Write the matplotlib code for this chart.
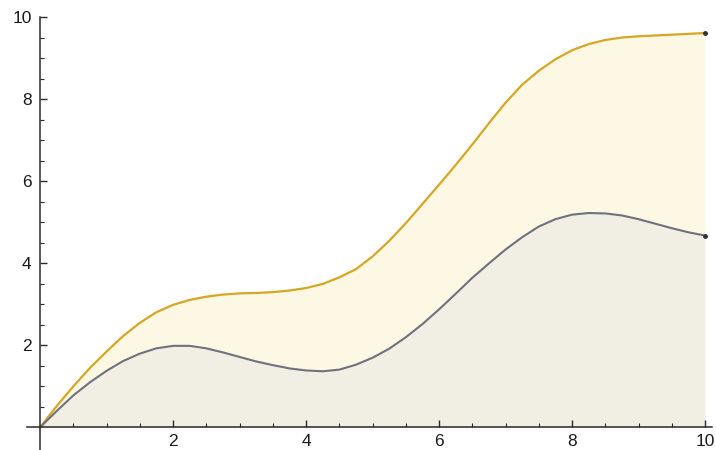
import matplotlib
matplotlib.use("Agg")
import matplotlib.pyplot as plt
from matplotlib.ticker import FixedLocator

# Sample positions and curve heights
x_vals = [0.0, 0.25, 0.5, 0.75, 1.0, 1.25, 1.5, 1.75, 2.0, 2.25, 2.5, 2.75,
          3.0, 3.25, 3.5, 3.75, 4.0, 4.25, 4.5, 4.75, 5.0, 5.25, 5.5, 5.75,
          6.0, 6.25, 6.5, 6.75, 7.0, 7.25, 7.5, 7.75, 8.0, 8.25, 8.5, 8.75,
          9.0, 9.25, 9.5, 9.75, 10.0]

upper_vals = [0.0, 0.52, 1.0, 1.45, 1.85, 2.23, 2.55, 2.81, 2.99, 3.11, 3.19, 3.24,
              3.27, 3.28, 3.3, 3.34, 3.4, 3.5, 3.66, 3.86, 4.17, 4.55, 4.98, 5.45,
              5.92, 6.4, 6.9, 7.42, 7.92, 8.36, 8.7, 8.98, 9.2, 9.35, 9.45, 9.51,
              9.54, 9.56, 9.58, 9.6, 9.62]

lower_vals = [0.0, 0.4, 0.78, 1.1, 1.38, 1.62, 1.8, 1.93, 1.99, 1.99, 1.93, 1.83,
              1.72, 1.61, 1.52, 1.44, 1.39, 1.37, 1.41, 1.53, 1.7, 1.92, 2.2, 2.52,
              2.88, 3.26, 3.65, 4.0, 4.34, 4.64, 4.9, 5.08, 5.19, 5.23, 5.22, 5.17,
              5.08, 4.97, 4.86, 4.76, 4.68]

major_ticks = [2, 4, 6, 8, 10]
tick_labels = ["2", "4", "6", "8", "10"]

upper_line = "#d6a624"
upper_fill = "#fcf8e3"
lower_line = "#6f717e"
lower_fill = "#f1eee3"
axis_color = "#2a2a2a"

plt.rcParams["font.family"] = ["Liberation Sans", "DejaVu Sans"]

fig = plt.figure(figsize=(7.16, 4.5), dpi=100)
ax = fig.add_axes([0.0373, 0.0, 0.9567, 0.9658])
ax.set_xlim(-0.2, 10.1)
ax.set_ylim(-0.55, 10.05)

ax.fill_between(x_vals, lower_vals, upper_vals, color=upper_fill, lw=0, zorder=1)
ax.fill_between(x_vals, 0, lower_vals, color=lower_fill, lw=0, zorder=1)

ax.plot(x_vals, upper_vals, color=upper_line, lw=1.6, zorder=3,
        solid_capstyle="round", solid_joinstyle="round")
ax.plot(x_vals, lower_vals, color=lower_line, lw=1.5, zorder=3,
        solid_capstyle="round", solid_joinstyle="round")
ax.plot([x_vals[-1]], [upper_vals[-1]], "o", color="#333333", ms=2.5, zorder=4)
ax.plot([x_vals[-1]], [lower_vals[-1]], "o", color="#333333", ms=2.5, zorder=4)

# Axes crossing at the origin
for side in ("top", "right"):
    ax.spines[side].set_visible(False)
ax.spines["left"].set_position(("data", 0))
ax.spines["bottom"].set_position(("data", 0))
ax.spines["left"].set_bounds(-0.55, 10.0)
ax.spines["bottom"].set_bounds(-0.2, 10.1)
for side in ("left", "bottom"):
    ax.spines[side].set_color(axis_color)
    ax.spines[side].set_linewidth(1.1)
    ax.spines[side].set_zorder(5)

ax.xaxis.set_major_locator(FixedLocator(major_ticks))
ax.yaxis.set_major_locator(FixedLocator(major_ticks))
ax.set_xticklabels(tick_labels)
ax.set_yticklabels(tick_labels)
minor_ticks = [v * 0.5 for v in range(1, 21) if v % 4 != 0]
ax.xaxis.set_minor_locator(FixedLocator(minor_ticks))
ax.yaxis.set_minor_locator(FixedLocator(minor_ticks))

ax.tick_params(which="major", direction="in", length=5, width=1.0,
               color=axis_color, labelsize=12.5, labelcolor="#1a1a1a")
ax.tick_params(which="minor", direction="in", length=3, width=0.8,
               color=axis_color)
ax.tick_params(axis="x", which="major", pad=5)
ax.tick_params(axis="y", which="major", pad=6)

ax.set_facecolor("white")
fig.patch.set_facecolor("white")

fig.savefig("out.png", dpi=100)
